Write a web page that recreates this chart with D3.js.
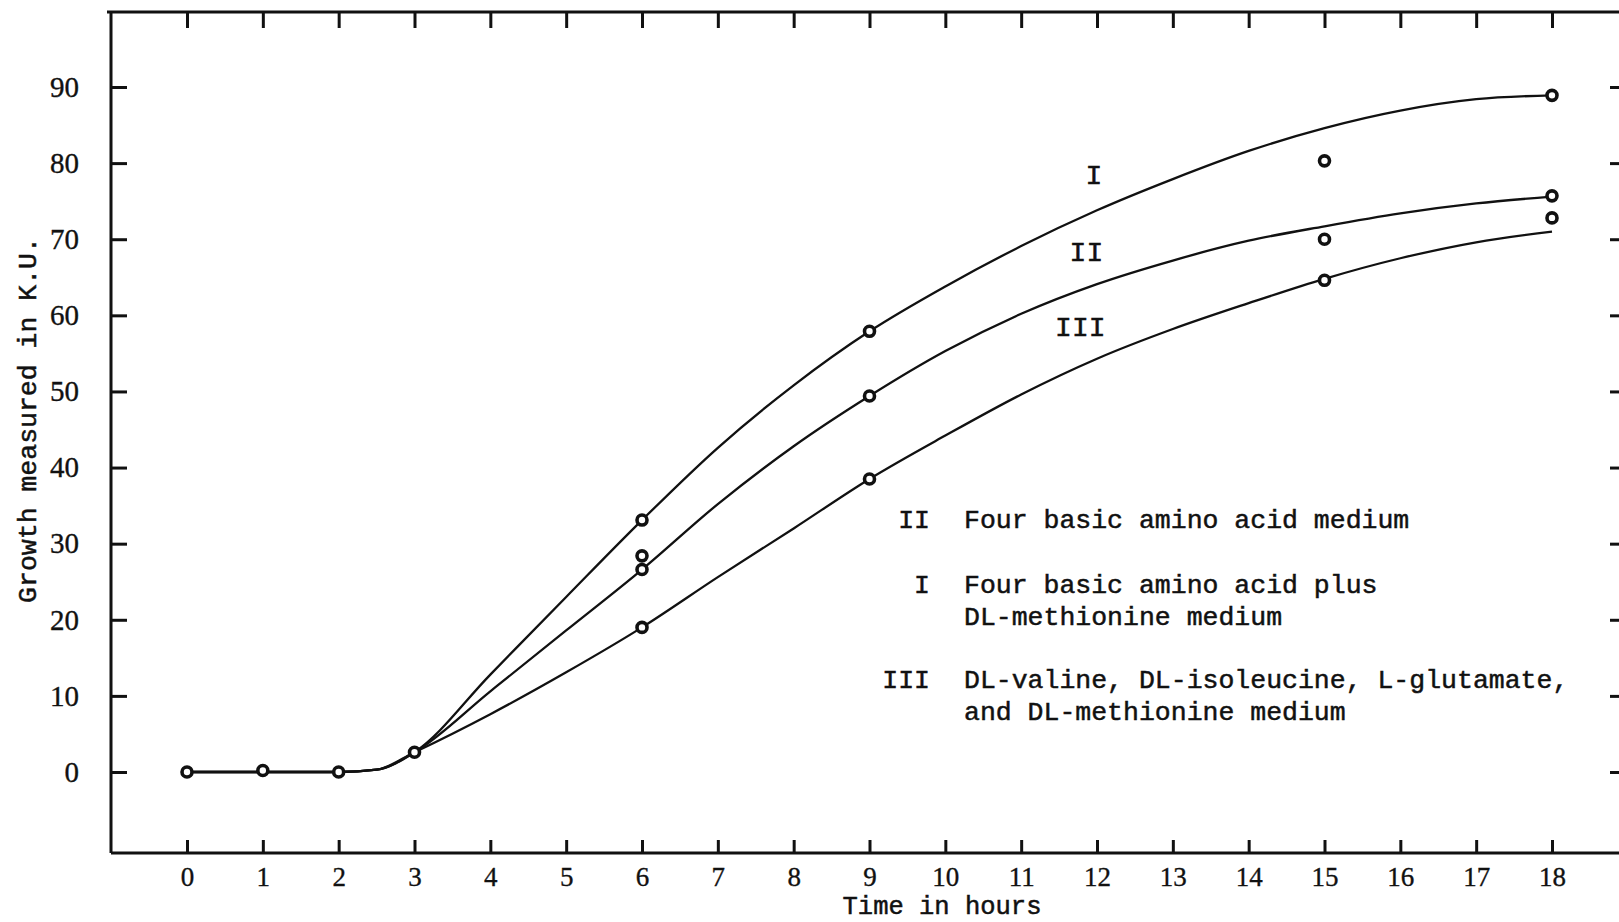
<!DOCTYPE html>
<html>
<head>
<meta charset="utf-8">
<script src="https://cdn.jsdelivr.net/npm/d3@7"></script>
<style>
  html, body { margin: 0; padding: 0; background: #fff; }
  svg { display: block; }
</style>
</head>
<body>
<svg id="chart" width="1619" height="922"></svg>
<script>
// ---- Data -------------------------------------------------------------
// Time axis (hours) and growth axis (K.U.) ticks
const hourTicks = d3.range(0, 19);
const growthTicks = [0, 10, 20, 30, 40, 50, 60, 70, 80, 90];

// Readings common to all three media during the lag phase
const lagHours = [0, 1, 2, 3];
const lagValues = [0, 0.2, 0, 2.6];

// Later readings for each medium
const readHours = [6, 9, 15, 18];
const readI   = [33.1, 57.9, 80.3, 88.9];
const readII  = [26.6, 49.4, 70.0, 75.7];
const readIII = [19.0, 38.5, 64.6, 72.8];
// Duplicate reading for medium II at 6 hours
const extraHours = [6];
const extraII = [28.4];

// Smoothed growth curves, sampled along the time axis
const curveHours = [0, 1, 2, 2.5, 3, 4, 5, 6, 7, 8, 9, 10, 11, 12, 13, 14, 15, 16, 17, 18];
const curveI   = [0, 0, 0, 0.3, 2.6, 12.8, 23.0, 33.1, 42.6, 50.8, 57.9, 63.8, 69.1, 73.8, 77.9, 81.6, 84.6, 86.9, 88.4, 88.9];
const curveII  = [0, 0, 0, 0.3, 2.6, 10.6, 18.6, 26.6, 35.2, 42.8, 49.4, 55.3, 60.2, 64.1, 67.2, 69.8, 71.7, 73.4, 74.7, 75.6];
const curveIII = [0, 0, 0, 0.3, 2.6, 7.6, 13.1, 19.0, 25.6, 32.0, 38.5, 44.2, 49.6, 54.3, 58.2, 61.6, 64.8, 67.5, 69.6, 71.0];

// Curve names and legend text
const seriesNames = ["I", "II", "III"];
const legendKeys = ["II", "I", "III"];
const legendText = [
  ["Four basic amino acid medium"],
  ["Four basic amino acid plus", "DL-methionine medium"],
  ["DL-valine, DL-isoleucine, L-glutamate,", "and DL-methionine medium"]
];
const xTitle = "Time in hours";
const yTitle = "Growth measured in K.U.";

// ---- Layout -----------------------------------------------------------
const W = 1619, H = 922;
const frame = { left: 111, top: 12, bottom: 853, right: W };
const ink = "#111";
const serif = "'Liberation Serif', 'Times New Roman', serif";
const mono = "'Liberation Mono', 'Courier New', monospace";

const svg = d3.select("#chart");

const x = d3.scaleLinear().domain([0, 18]).range([187, 1552]);
const y = d3.scaleLinear().domain([0, 90]).range([772, 87]);

// Frame lines: left axis, top border, bottom axis
const frameLine = d3.line();
svg.append("path")
  .attr("d", frameLine([[frame.left, frame.bottom], [frame.left, frame.top]]))
  .attr("stroke", ink).attr("stroke-width", 3).attr("fill", "none");
svg.append("path")
  .attr("d", frameLine([[frame.left - 4, frame.top], [frame.right, frame.top]]))
  .attr("stroke", ink).attr("stroke-width", 3).attr("fill", "none");
svg.append("path")
  .attr("d", frameLine([[frame.left, frame.bottom], [frame.right, frame.bottom]]))
  .attr("stroke", ink).attr("stroke-width", 3).attr("fill", "none");

function styleAxis(g, size) {
  g.select(".domain").remove();
  g.attr("font-family", serif).attr("font-size", size);
  g.selectAll(".tick line").attr("stroke", ink).attr("stroke-width", 3);
  g.selectAll(".tick text").attr("fill", ink)
    .attr("stroke", ink).attr("stroke-width", 0.35);
}

// Bottom axis with hour labels
const gBottom = svg.append("g")
  .attr("transform", `translate(0,${frame.bottom})`)
  .call(d3.axisBottom(x).tickValues(hourTicks).tickSizeInner(-13).tickSizeOuter(0)
    .tickPadding(14).tickFormat(d3.format("d")));
styleAxis(gBottom, 27);

// Top border ticks
const gTop = svg.append("g")
  .attr("transform", `translate(0,${frame.top})`)
  .call(d3.axisTop(x).tickValues(hourTicks).tickSizeInner(-16).tickSizeOuter(0).tickFormat(() => ""));
styleAxis(gTop, 27);

// Left axis with growth labels
const gLeft = svg.append("g")
  .attr("transform", `translate(${frame.left},0)`)
  .call(d3.axisLeft(y).tickValues(growthTicks).tickSizeInner(-16).tickSizeOuter(0)
    .tickPadding(32).tickFormat(d3.format("d")));
styleAxis(gLeft, 29);

// Right edge ticks
const gRight = svg.append("g")
  .attr("transform", `translate(${frame.right},0)`)
  .call(d3.axisRight(y).tickValues(growthTicks).tickSizeInner(-9).tickSizeOuter(0).tickFormat(() => ""));
styleAxis(gRight, 29);

// Typewriter-style text helper
function typed(sel) {
  return sel.attr("font-family", mono).attr("fill", ink)
    .attr("stroke", ink).attr("stroke-width", 0.5);
}

// Axis titles
typed(svg.append("text"))
  .attr("x", 942).attr("y", 905).attr("dy", "0.35em")
  .attr("text-anchor", "middle")
  .attr("font-size", 25.5)
  .text(xTitle);

typed(svg.append("text"))
  .attr("transform", "translate(27,420) rotate(-90)")
  .attr("dy", "0.35em")
  .attr("text-anchor", "middle")
  .attr("font-size", 26.5)
  .text(yTitle);

// Growth curves
const line = d3.line()
  .x(d => x(d[0]))
  .y(d => y(d[1]))
  .curve(d3.curveMonotoneX);

[curveI, curveII, curveIII].forEach(vals => {
  svg.append("path")
    .datum(curveHours.map((h, i) => [h, vals[i]]))
    .attr("d", line)
    .attr("fill", "none")
    .attr("stroke", ink)
    .attr("stroke-width", 2.3)
    .attr("stroke-linejoin", "round");
});

// Curve names beside each curve (hour, K.U. anchor)
const nameAnchors = [[11.96, 78.6], [11.86, 68.4], [11.78, 58.6]];
seriesNames.forEach((n, i) => {
  typed(svg.append("text"))
    .attr("x", x(nameAnchors[i][0])).attr("y", y(nameAnchors[i][1])).attr("dy", "0.35em")
    .attr("text-anchor", "middle")
    .attr("font-size", 28)
    .text(n);
});

// Readings as ringed points
const readings = [];
lagHours.forEach((h, i) => readings.push([h, lagValues[i]]));
[readI, readII, readIII].forEach(vals => readHours.forEach((h, i) => readings.push([h, vals[i]])));
extraHours.forEach((h, i) => readings.push([h, extraII[i]]));

svg.append("g").selectAll("circle")
  .data(readings)
  .join("circle")
  .attr("cx", d => x(d[0]))
  .attr("cy", d => y(d[1]))
  .attr("r", 5)
  .attr("fill", "#fff")
  .attr("stroke", ink)
  .attr("stroke-width", 3.6);

// Legend
const legend = typed(svg.append("g")).attr("font-size", 26.5);
const legendRowY = [519, 584, 679];
const lineGap = 32;
legendKeys.forEach((k, i) => {
  legend.append("text")
    .attr("x", 930).attr("y", legendRowY[i]).attr("dy", "0.35em")
    .attr("text-anchor", "end")
    .text(k);
  legendText[i].forEach((t, j) => {
    legend.append("text")
      .attr("x", 964).attr("y", legendRowY[i] + j * lineGap).attr("dy", "0.35em")
      .text(t);
  });
});
</script>
</body>
</html>
